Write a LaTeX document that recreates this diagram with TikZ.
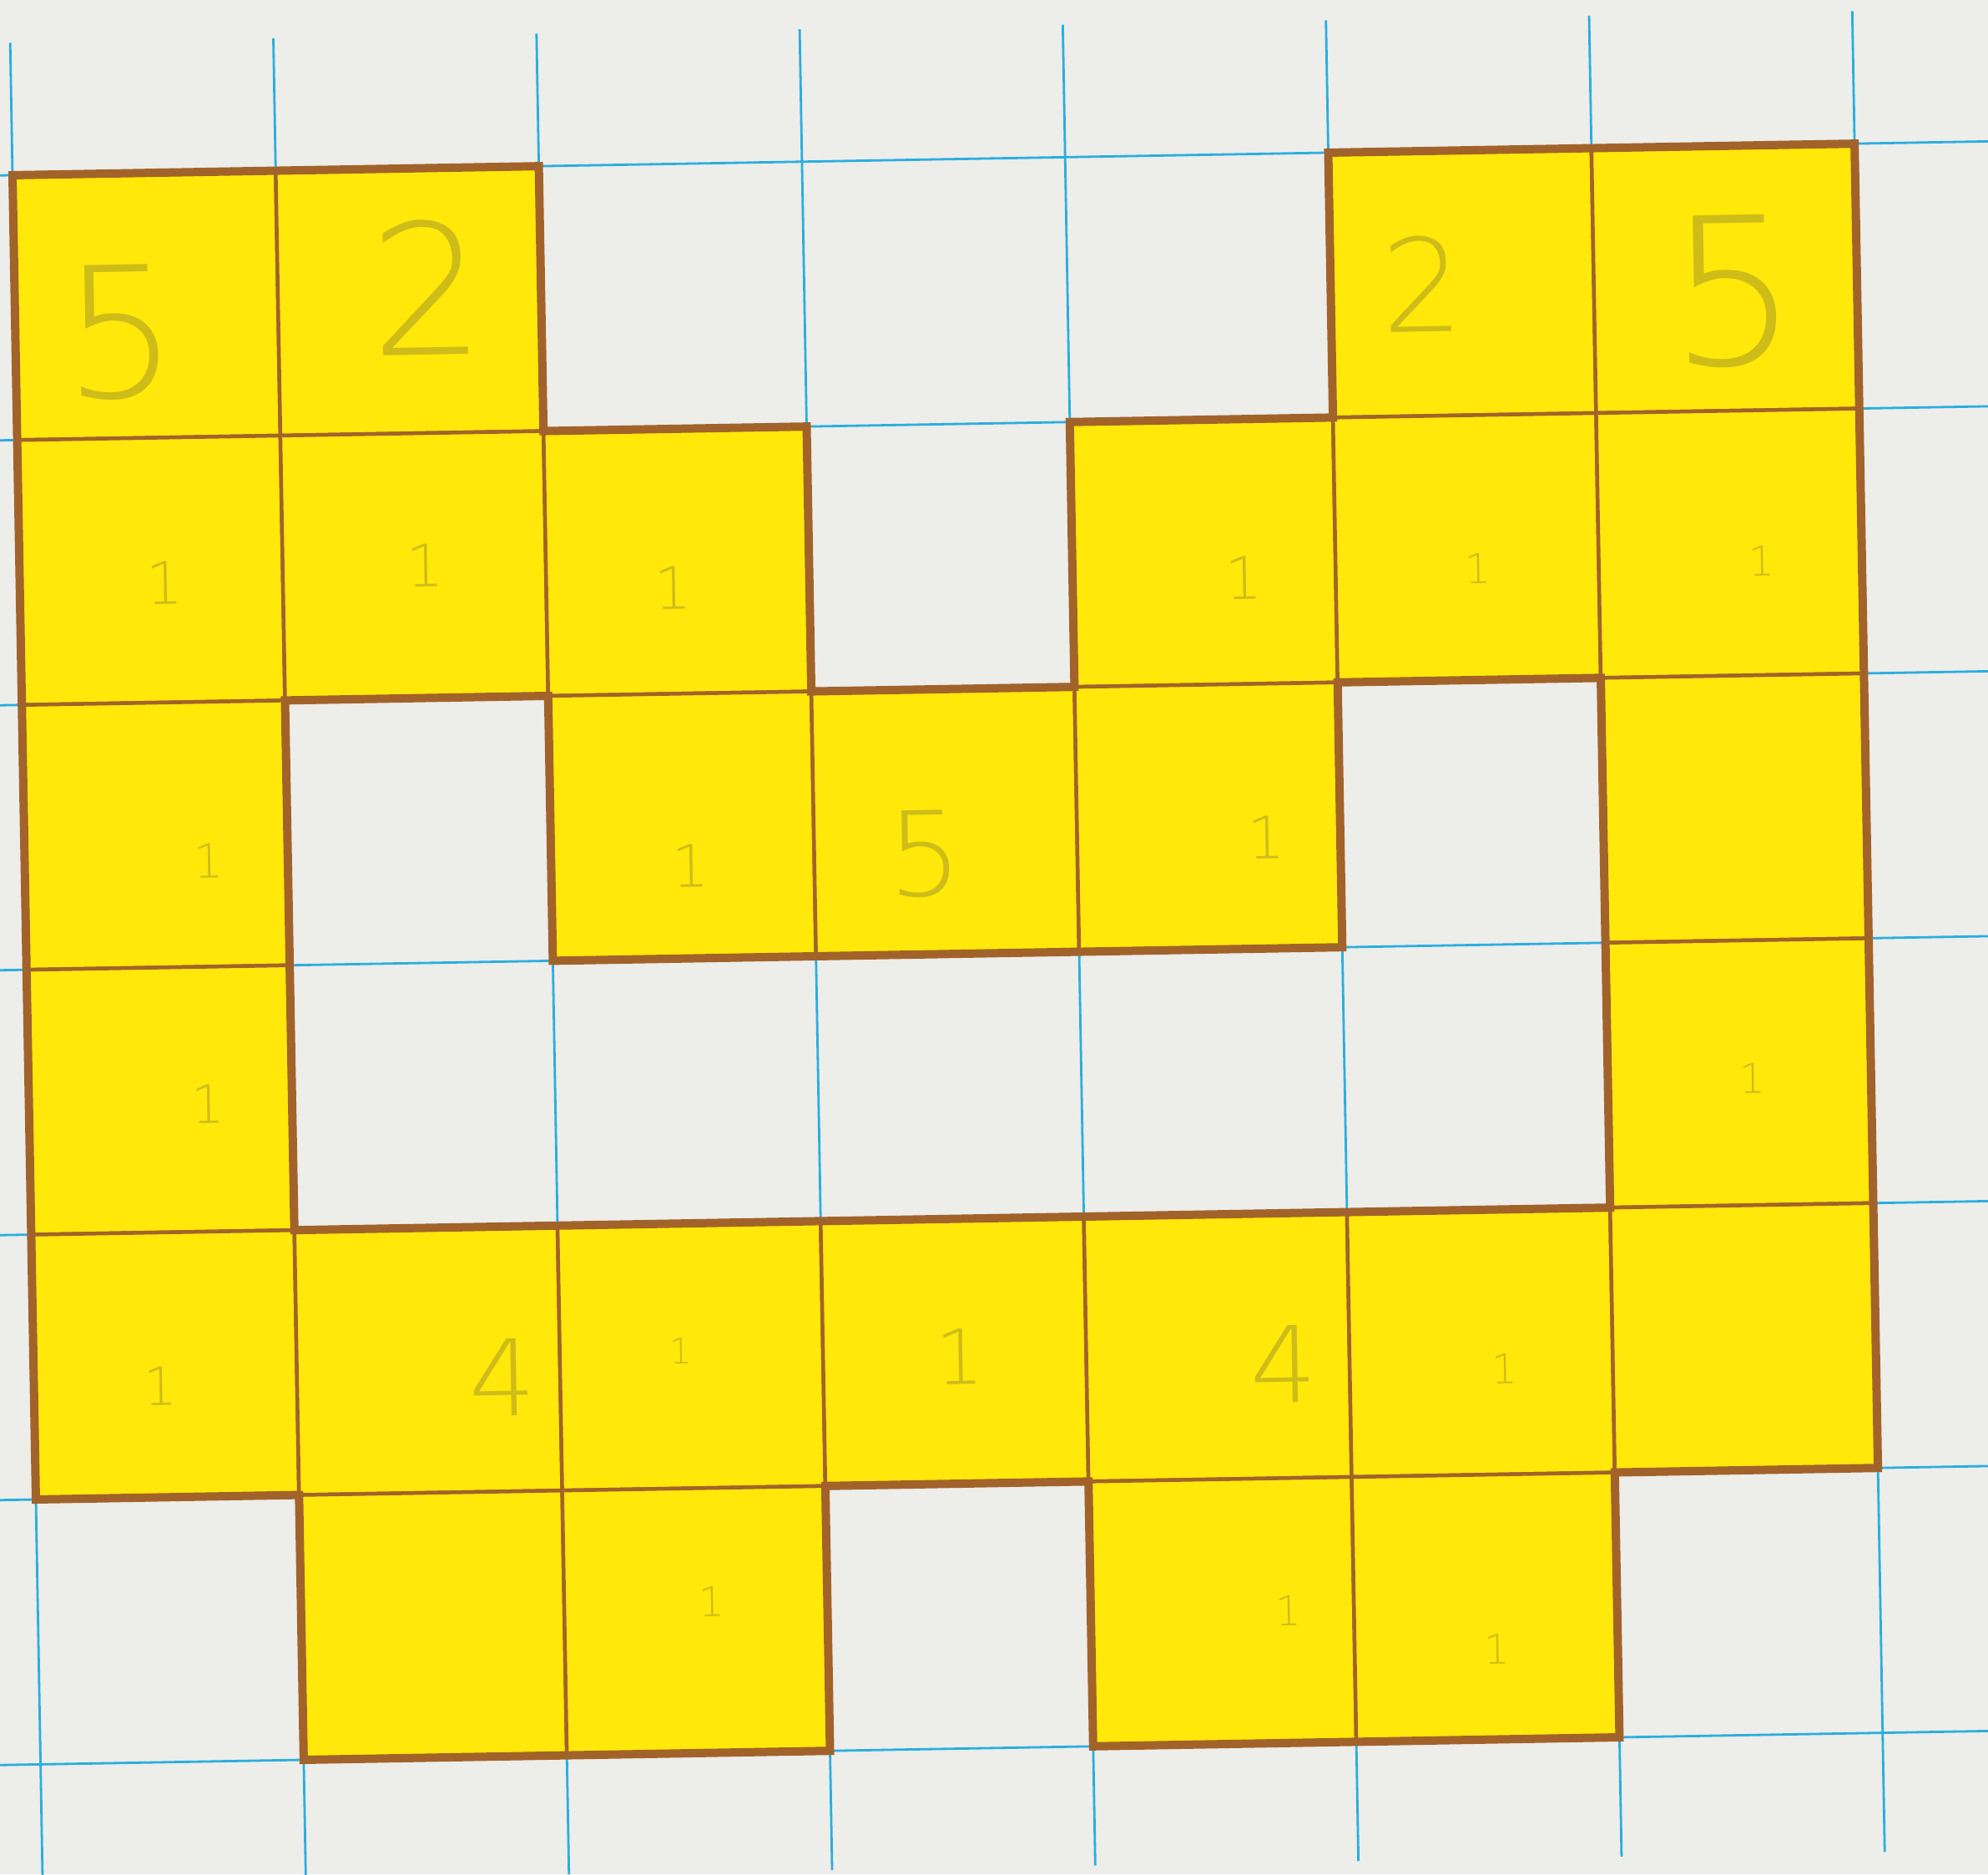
\documentclass[tikz,border=0pt]{standalone}
\usepackage{fontspec}
\newfontfamily\handfont{DejaVu Sans ExtraLight}
\definecolor{paper}{HTML}{EDEDEA}
\definecolor{hl}{HTML}{FFE80A}
\definecolor{ink}{HTML}{A2632A}
\definecolor{gridblue}{HTML}{2BAEDF}
\definecolor{pencil}{HTML}{5E5A3A}
\tikzset{
  gridline/.style={draw=gridblue, line width=0.28mm},
  cellfill/.style={fill=hl},
  innerline/.style={draw=ink, line width=0.45mm},
  outerline/.style={draw=ink, line width=1.0mm, line join=miter},
  pmark/.style={text=pencil, opacity=0.3, inner sep=0pt, rotate=1, font=\handfont},
}
\begin{document}
\begin{tikzpicture}
\fill[paper] (0,0) rectangle (238.2mm,224.6mm);
\useasboundingbox (0,0) rectangle (238.2mm,224.6mm);
\clip (0,0) rectangle (238.2mm,224.6mm);
\begin{scope}[shift={(1.5mm,203.6mm)}, x={(31.53mm,0.54mm)}, y={(0.56mm,-31.74mm)}]
  % paper grid
  \foreach \c in {0,...,7} \draw[gridline] (\c,-0.5) -- (\c,6.45);
  \foreach \r in {0,...,6} \draw[gridline] (-0.3,\r) -- (7.8,\r);
  % yellow cells
  \foreach \c/\r in {0/0,1/0,5/0,6/0,
                     0/1,1/1,2/1,4/1,5/1,6/1,
                     0/2,2/2,3/2,4/2,6/2,
                     0/3,6/3,
                     0/4,1/4,2/4,3/4,4/4,5/4,6/4,
                     1/5,2/5,4/5,5/5}
    \path[cellfill, innerline] (\c,\r) -- ++(1,0) -- ++(0,1) -- ++(-1,0) -- cycle;
  % outer boundary
  \draw[outerline] (0,0) -- (2,0) -- (2,1) -- (3,1) -- (3,2) -- (4,2) -- (4,1) -- (5,1)
     -- (5,0) -- (7,0) -- (7,5) -- (6,5) -- (6,6) -- (4,6) -- (4,5) -- (3,5) -- (3,6)
     -- (1,6) -- (1,5) -- (0,5) -- cycle;
  % inner hole boundary
  \draw[outerline] (1,2) -- (2,2) -- (2,3) -- (5,3) -- (5,2) -- (6,2) -- (6,4) -- (1,4) -- cycle;
  % pencil marks
  \node[pmark, font=\handfont\fontsize{62}{62}\selectfont] (m00) at (0.40,0.60) {5};
  \node[pmark, font=\handfont\fontsize{62}{62}\selectfont] (m10) at (1.57,0.45) {2};
  \node[pmark, font=\handfont\fontsize{44}{44}\selectfont] (m50) at (5.35,0.50) {2};
  \node[pmark, font=\handfont\fontsize{70}{70}\selectfont] (m60) at (6.53,0.55) {5};
  \node[pmark, font=\handfont\fontsize{20}{20}\selectfont] (m01) at (0.55,1.55) {1};
  \node[pmark, font=\handfont\fontsize{20}{20}\selectfont] (m11) at (1.54,1.50) {1};
  \node[pmark, font=\handfont\fontsize{20}{20}\selectfont] (m21) at (2.48,1.60) {1};
  \node[pmark, font=\handfont\fontsize{20}{20}\selectfont] (m41) at (4.65,1.60) {1};
  \node[pmark, font=\handfont\fontsize{14}{14}\selectfont] (m51) at (5.54,1.58) {1};
  \node[pmark, font=\handfont\fontsize{14}{14}\selectfont] (m61) at (6.62,1.57) {1};
  \node[pmark, font=\handfont\fontsize{16}{16}\selectfont] (m02) at (0.70,2.60) {1};
  \node[pmark, font=\handfont\fontsize{20}{20}\selectfont] (m22) at (2.53,2.65) {1};
  \node[pmark, font=\handfont\fontsize{40}{40}\selectfont] (m32) at (3.42,2.62) {5};
  \node[pmark, font=\handfont\fontsize{20}{20}\selectfont] (m42) at (4.72,2.58) {1};
  \node[pmark, font=\handfont\fontsize{18}{18}\selectfont] (m03) at (0.68,3.52) {1};
  \node[pmark, font=\handfont\fontsize{14}{14}\selectfont] (m63) at (6.55,3.52) {1};
  \node[pmark, font=\handfont\fontsize{18}{18}\selectfont] (m04) at (0.48,4.58) {1};
  \node[pmark, font=\handfont\fontsize{36}{36}\selectfont] (m14) at (1.78,4.57) {4};
  \node[pmark, font=\handfont\fontsize{12}{12}\selectfont] (m24) at (2.46,4.48) {1};
  \node[pmark, font=\handfont\fontsize{26}{26}\selectfont] (m34) at (3.52,4.52) {1};
  \node[pmark, font=\handfont\fontsize{36}{36}\selectfont] (m44) at (4.75,4.57) {4};
  \node[pmark, font=\handfont\fontsize{14}{14}\selectfont] (m54) at (5.59,4.60) {1};
  \node[pmark, font=\handfont\fontsize{14}{14}\selectfont] (m25) at (2.56,5.43) {1};
  \node[pmark, font=\handfont\fontsize{14}{14}\selectfont] (m45) at (4.75,5.50) {1};
  \node[pmark, font=\handfont\fontsize{14}{14}\selectfont] (m55) at (5.54,5.66) {1};
\end{scope}
\end{tikzpicture}
\end{document}
